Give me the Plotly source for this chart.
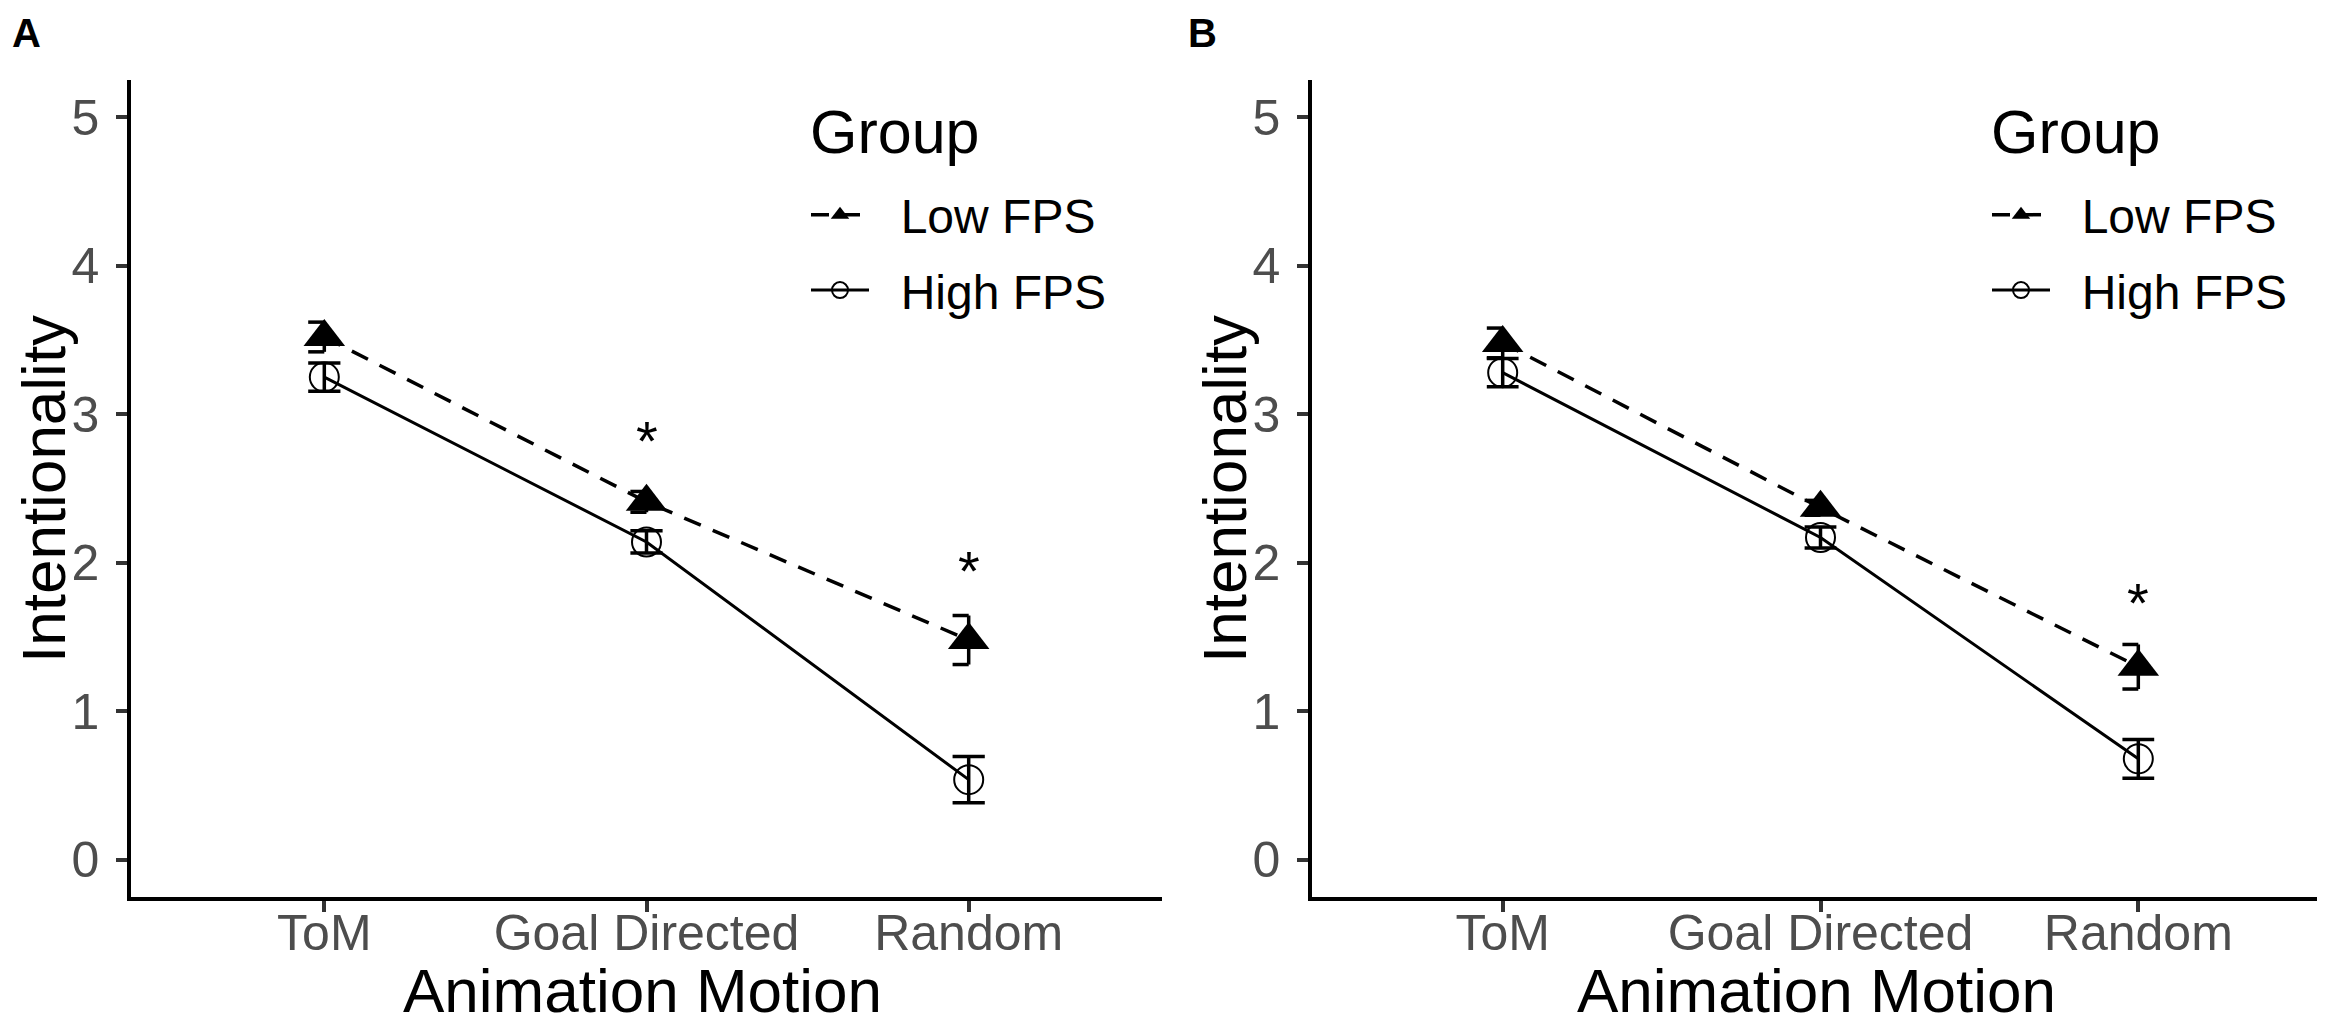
import plotly.graph_objects as go

# Datos
categorias = ["ToM", "Goal Directed", "Random"]
grupos = ["Low FPS", "High FPS"]

a_low_media = [3.52, 2.41, 1.48]
a_low_se = [0.10, 0.07, 0.165]
a_high_media = [3.25, 2.14, 0.54]
a_high_se = [0.095, 0.075, 0.155]
a_asteriscos = [None, 2.82, 1.95]

b_low_media = [3.48, 2.37, 1.30]
b_low_se = [0.10, 0.05, 0.15]
b_high_media = [3.28, 2.17, 0.68]
b_high_se = [0.095, 0.07, 0.13]
b_asteriscos = [None, None, 1.73]

y_ticks = [0, 1, 2, 3, 4, 5]

W, H = 2325, 1022
FUENTE = "Liberation Sans, Arial, sans-serif"
CAP = 0.05
HUECO = "\u00a0\u00a0"  # separación extra entre símbolo y texto de la leyenda


def ruta_errorbar(xs, medias, ses, izq, der):
    """Construye los segmentos de las barras de error (vertical + topes)."""
    px, py = [], []
    for x, m, s in zip(xs, medias, ses):
        lo, hi = m - s, m + s
        px += [x, x, None, x - izq, x + der, None, x - izq, x + der, None]
        py += [lo, hi, None, hi, hi, None, lo, lo, None]
    return px, py


xs = list(range(len(categorias)))

fig = go.Figure()

paneles = [
    ("x", "y", "legend", a_low_media, a_low_se, a_high_media, a_high_se),
    ("x2", "y2", "legend2", b_low_media, b_low_se, b_high_media, b_high_se),
]

for xa, ya, leyenda, low_m, low_s, high_m, high_s in paneles:
    # Barras de error
    ex, ey = ruta_errorbar(xs, low_m, low_s, CAP, 0)
    fig.add_trace(go.Scatter(x=ex, y=ey, mode="lines", xaxis=xa, yaxis=ya,
                             line=dict(color="black", width=3.5),
                             showlegend=False, hoverinfo="skip"))
    ex, ey = ruta_errorbar(xs, high_m, high_s, CAP, CAP)
    fig.add_trace(go.Scatter(x=ex, y=ey, mode="lines", xaxis=xa, yaxis=ya,
                             line=dict(color="black", width=3.5),
                             showlegend=False, hoverinfo="skip"))
    # Líneas y puntos
    fig.add_trace(go.Scatter(
        x=xs, y=low_m, mode="lines+markers", name=HUECO + grupos[0],
        xaxis=xa, yaxis=ya, legend=leyenda, legendgroup=leyenda + "low",
        line=dict(color="black", width=3.5, dash="18px,13px"),
        marker=dict(symbol="triangle-up", size=36, color="black"),
    ))
    fig.add_trace(go.Scatter(
        x=xs, y=high_m, mode="lines+markers", name=HUECO + grupos[1],
        xaxis=xa, yaxis=ya, legend=leyenda, legendgroup=leyenda + "high",
        line=dict(color="black", width=3),
        marker=dict(symbol="circle-open", size=29, color="black",
                    line=dict(width=2, color="black")),
    ))

# Asteriscos de significación
anotaciones = []
for xa, ya, sig in [("x", "y", a_asteriscos), ("x2", "y2", b_asteriscos)]:
    for x, s in zip(xs, sig):
        if s is None:
            continue
        anotaciones.append(dict(x=x, y=s, xref=xa, yref=ya, text="*",
                                showarrow=False,
                                font=dict(family=FUENTE, size=56, color="black")))

# Títulos de ejes, título de leyenda y etiquetas de panel
dom_a = [123 / W, 1154 / W]
dom_b = [1304 / W, 2321 / W]
dom_y = [133 / H, 950 / H]

for dom in (dom_a, dom_b):
    anotaciones.append(dict(x=(dom[0] + dom[1]) / 2 - 4 / W, y=1 - 1019 / H,
                            xref="paper", yref="paper",
                            text="Animation Motion", showarrow=False,
                            xanchor="center", yanchor="bottom",
                            font=dict(family=FUENTE, size=62, color="black")))
    anotaciones.append(dict(x=dom[0] - 87 / W, y=1 - 481 / H, xref="paper", yref="paper",
                            text="Intentionality", showarrow=False, textangle=-90,
                            xanchor="center", yanchor="middle",
                            font=dict(family=FUENTE, size=62, color="black")))
    anotaciones.append(dict(x=dom[0] + 677 / W, y=1 - 124 / H, xref="paper", yref="paper",
                            text="Group", showarrow=False,
                            xanchor="left", yanchor="middle",
                            font=dict(family=FUENTE, size=61, color="black")))

for letra, xp in [("A", 2), ("B", 1178)]:
    anotaciones.append(dict(x=xp / W, y=1 - 25 / H, xref="paper", yref="paper",
                            text="<b>%s</b>" % letra, showarrow=False,
                            xanchor="left", yanchor="middle",
                            font=dict(family=FUENTE, size=40, color="black")))

eje_x = dict(range=[-0.6, 2.6], tickmode="array", tickvals=xs, ticktext=categorias,
             showgrid=False, zeroline=False, showline=True, linecolor="black",
             linewidth=3.5, ticks="outside", ticklen=11, tickwidth=3.5,
             tickcolor="#333333", ticklabelstandoff=-22,
             tickfont=dict(family=FUENTE, size=50, color="#4D4D4D"))
eje_y = dict(range=[-0.25, 5.25], tickmode="array", tickvals=y_ticks,
             showgrid=False, zeroline=False, showline=True, linecolor="black",
             linewidth=3.5, ticks="outside", ticklen=11, tickwidth=3.5,
             tickcolor="#333333", ticklabelstandoff=7,
             tickfont=dict(family=FUENTE, size=50, color="#4D4D4D"),
             domain=dom_y)

leyenda_base = dict(font=dict(family=FUENTE, size=48, color="black"),
                    bgcolor="rgba(0,0,0,0)", xanchor="left", yanchor="top",
                    itemwidth=58, tracegroupgap=10, y=1 - 169 / H)

fig.update_layout(
    width=W, height=H,
    margin=dict(l=0, r=0, t=0, b=0),
    plot_bgcolor="white", paper_bgcolor="white",
    xaxis=dict(eje_x, domain=dom_a, anchor="y"),
    yaxis=dict(eje_y, anchor="x"),
    xaxis2=dict(eje_x, domain=dom_b, anchor="y2"),
    yaxis2=dict(eje_y, anchor="x2"),
    legend=dict(leyenda_base, x=798 / W),
    legend2=dict(leyenda_base, x=1979 / W),
    annotations=anotaciones,
    showlegend=True,
)

fig.write_html("out.html")
